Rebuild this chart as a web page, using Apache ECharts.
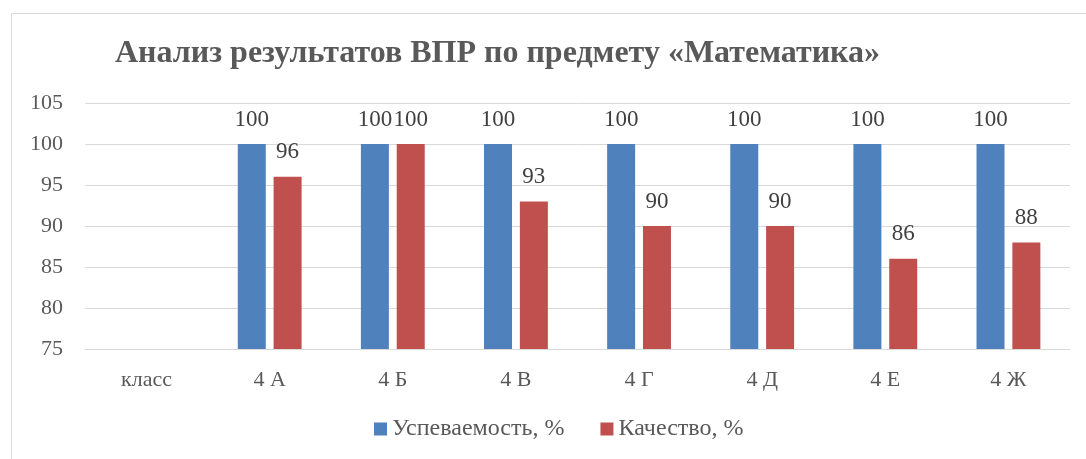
<!DOCTYPE html>
<html><head><meta charset="utf-8">
<script src="https://cdn.jsdelivr.net/npm/echarts@6/dist/echarts.min.js"></script>
<style>html,body{margin:0;padding:0;background:#fff}#c{width:1086px;height:459px}</style>
</head><body><div id="c"></div>
<script>
const categories = ['класс', '4 А', '4 Б', '4 В', '4 Г', '4 Д', '4 Е', '4 Ж'];
const uspevaemost = [null, 100, 100, 100, 100, 100, 100, 100];
const kachestvo = [null, 96, 100, 93, 90, 90, 86, 88];
const seriesNames = ['Успеваемость, %', 'Качество, %'];
const yTicks = {min: 75, max: 105, interval: 5};

const font = '"Liberation Serif", "DejaVu Serif", serif';
const chart = echarts.init(document.getElementById('c'), null, {renderer: 'canvas'});
chart.setOption({
  animation: false,
  graphic: [{
    type: 'rect', shape: {x: 11.5, y: 13.5, width: 1100, height: 500},
    style: {fill: 'none', stroke: '#d9d9d9', lineWidth: 1}, silent: true, z: -1
  }],
  title: {
    text: 'Анализ результатов ВПР по предмету «Математика»',
    left: 110, top: 33,
    textStyle: {fontFamily: font, fontWeight: 'bold', fontSize: 32, color: '#595959'}
  },
  legend: {
    data: seriesNames, bottom: 13, left: 369, itemWidth: 13, itemHeight: 13,
    itemGap: 36, icon: 'rect',
    textStyle: {fontFamily: font, fontSize: 24, color: '#595959'}
  },
  grid: {left: 85, right: 16, top: 103, bottom: 110, containLabel: false},
  xAxis: {
    type: 'category', data: categories,
    axisLine: {lineStyle: {color: '#d9d9d9'}}, axisTick: {show: false},
    axisLabel: {fontFamily: font, fontSize: 22, color: '#595959', margin: 20}
  },
  yAxis: {
    type: 'value', min: yTicks.min, max: yTicks.max, interval: yTicks.interval,
    axisLine: {show: false}, axisTick: {show: false},
    splitLine: {lineStyle: {color: '#d9d9d9', width: 1}},
    axisLabel: {fontFamily: font, fontSize: 22, color: '#595959', margin: 22}
  },
  series: [
    {name: seriesNames[0], type: 'bar', data: uspevaemost, barWidth: 28, barGap: '28%',
     itemStyle: {color: '#4F81BD'},
     label: {show: true, position: 'top', distance: 13, fontFamily: font, fontSize: 23, color: '#404040'}},
    {name: seriesNames[1], type: 'bar', data: kachestvo, barWidth: 28,
     itemStyle: {color: '#C0504D'},
     label: {show: true, position: 'top', distance: 13, fontFamily: font, fontSize: 23, color: '#404040'}}
  ]
});
</script></body></html>
